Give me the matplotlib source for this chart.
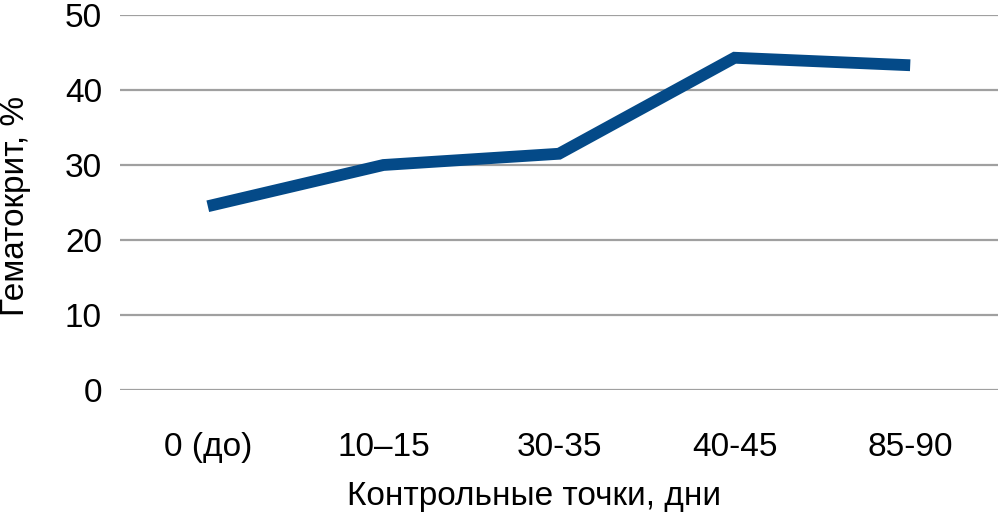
import matplotlib
matplotlib.use('Agg')
import matplotlib.pyplot as plt

# данные: гематокрит по контрольным точкам
categories = ['0 (до)', '10–15', '30-35', '40-45', '85-90']
hematocrit = [24.5, 30.0, 31.5, 44.3, 43.3]
y_ticks = [0, 10, 20, 30, 40, 50]

plt.rcParams['font.family'] = ['Liberation Sans', 'DejaVu Sans']

W, H = 999, 517
fig = plt.figure(figsize=(W / 100, H / 100), dpi=100)
ax = fig.add_axes([120 / W, 1 - 390 / H, 878 / W, 375 / H])

x = list(range(len(categories)))
ax.plot(x, hematocrit, color='#044a88', linewidth=8.5, solid_capstyle='butt',
        solid_joinstyle='miter', zorder=3)

ax.set_xlim(-0.5, len(categories) - 0.5)
ax.set_ylim(0, 50)
ax.set_yticks(y_ticks)
ax.set_xticks(x)
ax.set_xticklabels(categories)

ax.grid(axis='y', color='#a0a0a0', linewidth=1.6)
ax.set_axisbelow(True)
for s in ax.spines.values():
    s.set_visible(False)
ax.tick_params(axis='both', length=0, labelsize=24, colors='black')
ax.tick_params(axis='y', pad=13)
ax.tick_params(axis='x', pad=30)

ax.set_xlabel('Контрольные точки, дни', fontsize=24)
ax.set_ylabel('Гематокрит, %', fontsize=24)
# подписи осей — как в исходнике, x-подпись чуть левее центра
ax.xaxis.set_label_coords(0.4715, -0.243)
ax.yaxis.set_label_coords(-0.101, 0.49)

fig.savefig('out.png', dpi=100)
